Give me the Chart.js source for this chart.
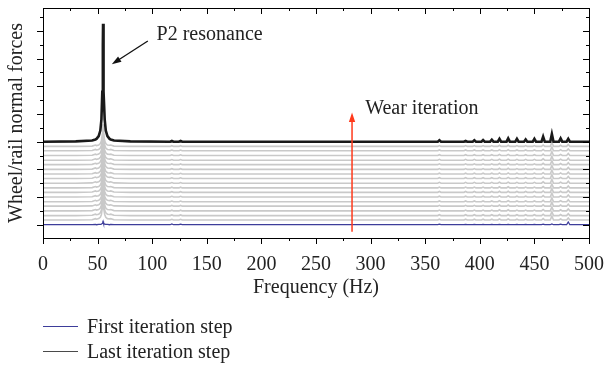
<!DOCTYPE html>
<html>
<head>
<meta charset="utf-8">
<script src="https://cdn.jsdelivr.net/npm/chart.js@4.4.1/dist/chart.umd.min.js"></script>
<style>
    html, body { margin: 0; padding: 0; background: #fff; }
    #wrap { position: relative; width: 605px; height: 370px; }
    #legend { position: absolute; left: 43px; top: 314px; font-family: "Liberation Serif", serif; font-size: 20px; color: #222; }
    .item { display: flex; align-items: center; height: 25px; }
    .swatch { width: 35px; height: 0; margin-right: 9px; }
</style>
</head>
<body>
<div id="wrap">
    <canvas id="spectrumChart" width="605" height="370"></canvas>
    <div id="legend">
        <div class="item"><span class="swatch" style="border-top: 1.5px solid #3d3d9a"></span>First iteration step</div>
        <div class="item"><span class="swatch" style="border-top: 1.5px solid #4a4a4a"></span>Last iteration step</div>
    </div>
</div>
<script>
// frequency samples (Hz)
const freqs = [
    0, 30, 45, 48, 49, 51, 52.5, 53.5, 54.3, 54.8, 55, 55.2, 55.7, 56.5, 57.5, 59, 61, 62, 65, 80,
    116.5, 118, 119.5, 124.5, 126, 127.5,
    361.5, 363, 364.5,
    385.5, 387, 388.5,
    393.5, 395, 396.5,
    401.5, 403, 404.5,
    409.5, 411, 412.5,
    416.5, 418, 419.5,
    424.5, 426, 427.5,
    432.5, 434, 435.5,
    440.5, 442, 443.5,
    448.5, 450, 451.5,
    456.5, 458, 459.5,
    464.5, 466, 467.5,
    472.5, 474, 475.5,
    479.5, 481, 482.5,
    500
];

// force amplitude of the first wear step
const firstStep = [
    0, 0, 0, 0.01, 0, 0.01, 0.01, 0.02, 0.05, 0.1, 0.12, 0.1, 0.05, 0.02, 0.01, 0.01, 0, 0.01, 0, 0,
    0, 0.03, 0, 0, 0.02, 0,
    0, 0.02, 0,
    0, 0.01, 0,
    0, 0.01, 0,
    0, 0.01, 0,
    0, 0.01, 0,
    0, 0.01, 0,
    0, 0.01, 0,
    0, 0.01, 0,
    0, 0.01, 0,
    0, 0.01, 0,
    0, 0.02, 0,
    0, 0.03, 0,
    0, 0.02, 0,
    0, 0.1, 0,
    0
];

// intermediate wear steps
const midStep = [
    0, 0, 0.01, 0.05, 0.03, 0.05, 0.1, 0.2, 0.45, 0.7, 0.8, 0.7, 0.45, 0.2, 0.1, 0.05, 0.04, 0.05, 0.01, 0,
    0, 0.025, 0, 0, 0.025, 0,
    0, 0.03, 0,
    0, 0.03, 0,
    0, 0.03, 0,
    0, 0.03, 0,
    0, 0.03, 0,
    0, 0.04, 0,
    0, 0.04, 0,
    0, 0.03, 0,
    0, 0.03, 0,
    0, 0.03, 0,
    0, 0.05, 0,
    0, 0.14, 0,
    0, 0.04, 0,
    0, 0.07, 0,
    0
];

// last wear step
const lastStep = [
    0, 0.01, 0.04, 0.08, 0.1, 0.2, 0.4, 0.8, 1.8, 3.5, 4.26, 3.5, 1.8, 0.8, 0.4, 0.2, 0.1, 0.08, 0.04, 0.01,
    0, 0.03, 0, 0, 0.03, 0,
    0, 0.05, 0,
    0, 0.03, 0,
    0, 0.05, 0,
    0, 0.06, 0,
    0, 0.07, 0,
    0, 0.1, 0,
    0, 0.12, 0,
    0, 0.1, 0,
    0, 0.08, 0,
    0, 0.1, 0,
    0, 0.18, 0,
    0, 0.28, 0,
    0, 0.12, 0,
    0, 0.1, 0,
    0
];

// vertical offset of each step in the waterfall
const stepOffsets = [0, 0.17, 0.33, 0.5, 0.67, 0.83, 1, 1.17, 1.33, 1.5, 1.67, 1.83, 2, 2.17, 2.33, 2.5, 2.67, 2.83, 3];

const xTicks = [0, 50, 100, 150, 200, 250, 300, 350, 400, 450, 500];

const serif = "'Liberation Serif', 'DejaVu Serif', serif";

function toPoints(values, offset) {
    return freqs.map((f, i) => ({ x: f, y: values[i] + offset }));
}

const datasets = [];
for (let k = 1; k < stepOffsets.length - 1; k++) {
    datasets.push({
        data: toPoints(midStep, stepOffsets[k]),
        borderColor: "#c9c9c9",
        borderWidth: 1.6,
        order: 2
    });
}
datasets.push({
    data: toPoints(firstStep, stepOffsets[0]),
    borderColor: "#3d3d9a",
    borderWidth: 1.3,
    order: 1
});
datasets.push({
    data: toPoints(lastStep, stepOffsets[stepOffsets.length - 1]),
    borderColor: "#1a1a1a",
    borderWidth: 2.6,
    order: 0
});

function arrow(ctx, x1, y1, x2, y2, color, width, head) {
    const a = Math.atan2(y2 - y1, x2 - x1);
    ctx.save();
    ctx.strokeStyle = color;
    ctx.fillStyle = color;
    ctx.lineWidth = width;
    ctx.beginPath();
    ctx.moveTo(x1, y1);
    ctx.lineTo(x2 - Math.cos(a) * head * 0.6, y2 - Math.sin(a) * head * 0.6);
    ctx.stroke();
    ctx.beginPath();
    ctx.moveTo(x2, y2);
    ctx.lineTo(x2 - head * Math.cos(a - 0.32), y2 - head * Math.sin(a - 0.32));
    ctx.lineTo(x2 - head * Math.cos(a + 0.32), y2 - head * Math.sin(a + 0.32));
    ctx.closePath();
    ctx.fill();
    ctx.restore();
}

// box, inward/outward ticks and the text annotations
const framePlugin = {
    id: "frame",
    afterDraw(chart) {
        const { ctx, chartArea: area, scales } = chart;
        const x = scales.x, y = scales.y;
        ctx.save();
        ctx.strokeStyle = "#000";
        ctx.lineWidth = 1;
        ctx.strokeRect(area.left + 0.5, area.top + 0.5, area.right - area.left, area.bottom - area.top);

        ctx.beginPath();
        for (let f = 0; f <= 500; f += 25) {
            const px = Math.round(x.getPixelForValue(f)) + 0.5;
            const len = f % 50 === 0 ? 6 : 3;
            ctx.moveTo(px, area.bottom);
            ctx.lineTo(px, area.bottom + len);
            ctx.moveTo(px, area.top);
            ctx.lineTo(px, area.top + len);
        }
        for (let v = -0.5; v <= 7.8; v += 0.5) {
            const py = Math.round(y.getPixelForValue(v)) + 0.5;
            if (py > area.bottom || py < area.top) continue;
            const len = Number.isInteger(v) ? 6 : 3;
            ctx.moveTo(area.left, py);
            ctx.lineTo(area.left - len, py);
            ctx.moveTo(area.right, py);
            ctx.lineTo(area.right - len, py);
        }
        ctx.stroke();

        ctx.fillStyle = "#222";
        ctx.font = "20px " + serif;
        ctx.textBaseline = "middle";
        ctx.fillText("P2 resonance", x.getPixelForValue(104), y.getPixelForValue(6.85));
        ctx.fillText("Wear iteration", x.getPixelForValue(295), y.getPixelForValue(4.2));

        arrow(ctx, x.getPixelForValue(96), y.getPixelForValue(6.64),
            x.getPixelForValue(63), y.getPixelForValue(5.8), "#111", 1.3, 10);
        arrow(ctx, x.getPixelForValue(283), y.getPixelForValue(-0.25),
            x.getPixelForValue(283), y.getPixelForValue(4.05), "#ff3a1c", 1.5, 10);
        ctx.restore();
    }
};

new Chart(document.getElementById("spectrumChart"), {
    type: "line",
    data: { datasets: datasets },
    options: {
        responsive: false,
        animation: false,
        events: [],
        layout: { padding: { top: 8, right: 0, bottom: 70, left: 0 } },
        elements: { point: { radius: 0 }, line: { tension: 0 } },
        plugins: { legend: { display: false }, tooltip: { enabled: false } },
        scales: {
            x: {
                type: "linear",
                min: 0,
                max: 500,
                afterBuildTicks: (scale) => { scale.ticks = xTicks.map(v => ({ value: v })); },
                afterFit: (scale) => {
                    scale.height = 62;
                    scale.paddingRight = 16;
                },
                grid: { display: false },
                border: { display: false },
                ticks: { padding: 7, maxRotation: 0, color: "#222", font: { family: serif, size: 20 } },
                title: { display: true, text: "Frequency (Hz)", color: "#222", padding: { top: 0, bottom: 0 }, font: { family: serif, size: 20 } }
            },
            y: {
                min: -0.48,
                max: 7.83,
                grid: { display: false },
                border: { display: false },
                ticks: { display: false },
                afterFit: (scale) => { scale.width = 43; },
                title: { display: true, text: "Wheel/rail normal forces", color: "#222", padding: { top: 5, bottom: 0 }, font: { family: serif, size: 20 } }
            }
        }
    },
    plugins: [framePlugin]
});
</script>
</body>
</html>
